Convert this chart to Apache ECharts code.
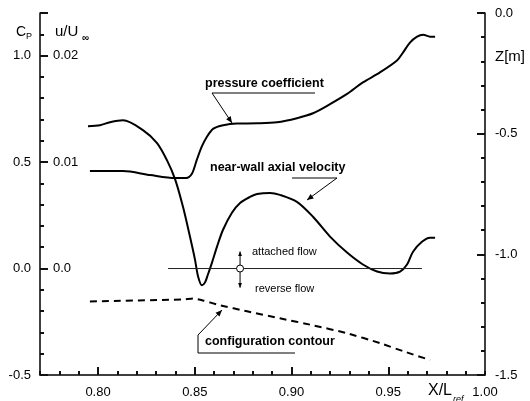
<!DOCTYPE html>
<html><head><meta charset="utf-8">
<script src="https://cdn.jsdelivr.net/npm/echarts@6/dist/echarts.min.js"></script>
<style>html,body{margin:0;padding:0;background:#fff}#c{width:530px;height:401px}</style>
</head><body><div id="c"></div>
<script>
// ---- data ----
const pressureX  = [0.7958,0.8129,0.8269,0.8398,0.8455,0.8485,0.8510,0.8536,0.8562,0.8596,0.8647,0.8717,0.8822,0.8925,0.9028,0.9111,0.9199,0.9287,0.9369,0.9457,0.9545,0.9576,0.9612,0.9649,0.9680,0.9716,0.9742];
const pressureCp = [0.458,0.458,0.439,0.425,0.425,0.445,0.509,0.572,0.618,0.657,0.673,0.681,0.682,0.687,0.706,0.729,0.772,0.820,0.874,0.921,0.977,1.014,1.061,1.089,1.098,1.089,1.089];

const velocityX = [0.7948,0.8010,0.8062,0.8129,0.8232,0.8305,0.8356,0.8398,0.8439,0.8475,0.8501,0.8517,0.8537,0.8553,0.8568,0.8589,0.8615,0.8646,0.8692,0.8734,0.8785,0.8822,0.8889,0.8940,0.9028,0.9111,0.9199,0.9287,0.9369,0.9442,0.9509,0.9561,0.9597,0.9628,0.9674,0.9716,0.9742];
const velocityU = [0.01336,0.01346,0.01374,0.01392,0.01300,0.01178,0.01018,0.00840,0.00580,0.00300,0.00084,-0.00074,-0.00158,-0.00130,-0.00056,0.00056,0.00206,0.00364,0.00524,0.00616,0.00672,0.00700,0.00710,0.00692,0.00626,0.00486,0.00300,0.00150,0.00038,-0.00028,-0.00046,-0.00028,0.00038,0.00158,0.00252,0.00290,0.00290];

const contourX = [0.7958,0.8439,0.8491,0.8542,0.8630,0.8770,0.8940,0.9111,0.9287,0.9457,0.9576,0.9716];
const contourZ = [-1.195,-1.187,-1.183,-1.191,-1.211,-1.236,-1.265,-1.294,-1.327,-1.368,-1.401,-1.438];

const zeroLineX = [0.8362,0.9674];
const flowMarkX = 0.8734;
const flowArrowU = [0.0016,-0.0018];

const xTickLabels  = [0.80,0.85,0.90,0.95,1.00];
const cpTickLabels = [-0.5,0.0,0.5,1.0];
const uTickLabels  = [0.0,0.01,0.02];
const zTickLabels  = [0.0,-0.5,-1.0,-1.5];

// ---- chart ----
const FONT = "'Liberation Sans', Arial, sans-serif";
const near = (list, v) => list.some(t => Math.abs(t - v) < 1e-6);
const zip = (xs, ys) => xs.map((x, i) => [x, ys[i]]);
const lbl = () => ({color:'#000', fontSize:13, fontFamily:FONT});
const tk = () => ({color:'#111', width:2});

function arrowParts(x1,y1,x2,y2,size,head2){
  const a = Math.atan2(y2-y1, x2-x1);
  const head = (x,y,ang) => ({type:'polygon', z:100, style:{fill:'#000'}, shape:{points:[[x,y],
    [x - size*Math.cos(ang-0.4), y - size*Math.sin(ang-0.4)],
    [x - size*Math.cos(ang+0.4), y - size*Math.sin(ang+0.4)]]}});
  const out = [{type:'line', shape:{x1,y1,x2,y2}, style:{stroke:'#000', lineWidth:1}, z:100}, head(x2,y2,a)];
  if (head2) out.push(head(x1,y1,a+Math.PI));
  return out;
}
function txt(text,x,y,size,weight,extra){
  return {type:'text', x, y, z:100, style:Object.assign({text, fill:'#000', fontSize:size, fontFamily:FONT, fontWeight:weight||'normal', textVerticalAlign:'middle', textAlign:'left'}, extra||{})};
}
function seg(x1,y1,x2,y2){ return {type:'line', shape:{x1,y1,x2,y2}, style:{stroke:'#000', lineWidth:1}, z:100}; }

const chart = echarts.init(document.getElementById('c'));
chart.setOption({
  animation:false,
  backgroundColor:'#fff',
  grid:{left:40, right:45, top:13, bottom:26},
  xAxis:[
    {type:'value', position:'bottom', min:0.77, max:1.0, interval:0.01,
     axisLine:{show:true, onZero:false, lineStyle:{color:'#000', width:1.5}},
     axisTick:{show:true, inside:true, length:4, lineStyle:tk()},
     axisLabel:Object.assign({show:true, margin:11,
       formatter:v => near(xTickLabels, v) ? v.toFixed(2) : ''}, lbl()),
     splitLine:{show:false}},
    {type:'value', position:'bottom', min:0.77, max:1.0,
     axisLine:{show:false, onZero:false},
     axisTick:{show:true, inside:true, length:8, lineStyle:tk(), customValues:[0.80,0.85,0.90,0.95]},
     axisLabel:{show:false}, splitLine:{show:false}}
  ],
  yAxis:[
    {type:'value', position:'left', min:-0.5, max:1.2, interval:0.1,
     axisLine:{show:true, onZero:false, lineStyle:{color:'#000', width:1.5}},
     axisTick:{show:true, inside:true, length:4, lineStyle:tk()},
     axisLabel:Object.assign({show:true, margin:9,
       formatter:v => near(cpTickLabels, v) ? v.toFixed(1) : ''}, lbl()),
     splitLine:{show:false}},
    {type:'value', position:'left', min:-0.5, max:1.2, interval:0.5,
     axisLine:{show:false, onZero:false},
     axisTick:{show:true, inside:true, length:8, lineStyle:tk()},
     axisLabel:{show:false}, splitLine:{show:false}},
    {type:'value', position:'left', min:-0.01, max:0.024, interval:0.01,
     axisLine:{show:false, onZero:false}, axisTick:{show:false},
     axisLabel:Object.assign({show:true, inside:true, margin:13,
       formatter:v => near(uTickLabels, v) ? (Math.abs(v) < 1e-9 ? '0.0' : v.toFixed(2)) : ''}, lbl()),
     splitLine:{show:false}},
    {type:'value', position:'right', min:-1.5, max:0, interval:0.1,
     axisLine:{show:true, onZero:false, lineStyle:{color:'#000', width:1.5}},
     axisTick:{show:true, inside:true, length:4, lineStyle:tk()},
     axisLabel:Object.assign({show:true, margin:10,
       formatter:v => near(zTickLabels, v) ? v.toFixed(1) : ''}, lbl()),
     splitLine:{show:false}},
    {type:'value', position:'right', min:-1.5, max:0, interval:0.5,
     axisLine:{show:false, onZero:false},
     axisTick:{show:true, inside:true, length:8, lineStyle:tk()},
     axisLabel:{show:false}, splitLine:{show:false}}
  ],
  series:[
    {name:'pressure coefficient', type:'line', xAxisIndex:0, yAxisIndex:0, data:zip(pressureX, pressureCp),
     showSymbol:false, smooth:0.3, lineStyle:{color:'#000', width:2}},
    {name:'near-wall axial velocity', type:'line', xAxisIndex:0, yAxisIndex:2, data:zip(velocityX, velocityU),
     showSymbol:false, smooth:0.3, lineStyle:{color:'#000', width:2}},
    {name:'configuration contour', type:'line', xAxisIndex:0, yAxisIndex:3, data:zip(contourX, contourZ),
     showSymbol:false, smooth:0.2, lineStyle:{color:'#000', width:2, type:[7,5]}},
    {name:'zero', type:'line', xAxisIndex:0, yAxisIndex:2, data:zeroLineX.map(x => [x, 0]),
     showSymbol:false, lineStyle:{color:'#222', width:1}}
  ]
});

// flow-direction marker placed from data coordinates
const finder = {xAxisIndex:0, yAxisIndex:2};
const c0 = chart.convertToPixel(finder, [flowMarkX, 0]);
const cTop = chart.convertToPixel(finder, [flowMarkX, flowArrowU[0]]);
const cBot = chart.convertToPixel(finder, [flowMarkX, flowArrowU[1]]);

chart.setOption({
  graphic:[
    txt('C',16,32,14),
    txt('P',26,37,9),
    txt('u/U',55,32,15),
    txt('\u221E',82,38,10,'bold'),
    txt('Z[m]',495,57,15),
    txt('X/L',428,391,16),
    txt('ref',453,399,9,'normal',{fontStyle:'italic'}),
    txt('pressure coefficient',205,84,12.5,'bold'),
    seg(212,93,315,93),
    ...arrowParts(212,93,232,123,7),
    txt('near-wall axial velocity',210,168,12.5,'bold'),
    seg(292,178,337,178),
    ...arrowParts(337,178,307,200,7),
    txt('configuration contour',205,342,12.5,'bold'),
    seg(198,353,295,353),
    seg(198,353,198,335),
    ...arrowParts(198,335,222,310,7),
    txt('attached flow',252,252,11),
    txt('reverse flow',255,289,11),
    ...arrowParts(cBot[0],cBot[1],cTop[0],cTop[1],5,true),
    {type:'circle', z:101, shape:{cx:c0[0], cy:c0[1], r:3.5}, style:{fill:'#fff', stroke:'#000', lineWidth:1}}
  ]
});
</script></body></html>
